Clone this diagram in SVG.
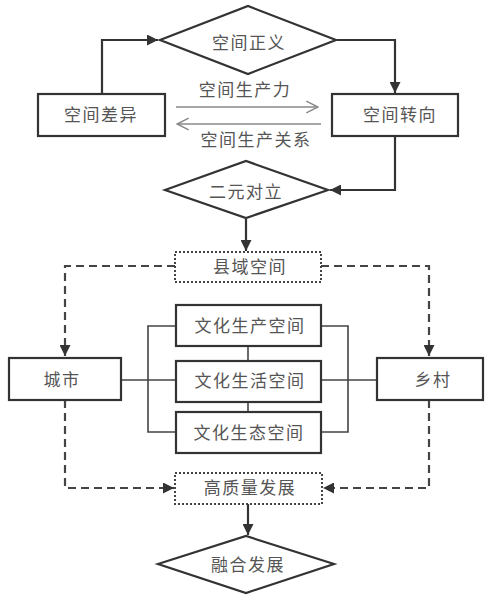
<svg xmlns="http://www.w3.org/2000/svg" width="486" height="597" viewBox="0 0 486 597">
<defs>
<marker id="ah" viewBox="0 0 10 10" refX="10" refY="5" markerWidth="5" markerHeight="5" orient="auto" markerUnits="userSpaceOnUse">
<path d="M0,0 L10,5 L0,10 z" fill="#333"/>
</marker>
<marker id="ahb" viewBox="0 0 10 10" refX="10" refY="5" markerWidth="11" markerHeight="11" orient="auto" markerUnits="userSpaceOnUse">
<path d="M0,0 L10,5 L0,10 z" fill="#333"/>
</marker>
<marker id="open" viewBox="0 0 12 12" refX="11" refY="6" markerWidth="14" markerHeight="14" orient="auto" markerUnits="userSpaceOnUse">
<path d="M1,1 L11,6 L1,11" fill="none" stroke="#888" stroke-width="1.2"/>
</marker>
</defs>
<style>
.box{fill:#fff;stroke:#333;stroke-width:2.2}
.dot{fill:#fff;stroke:#444;stroke-width:2;stroke-dasharray:2 2}
.t{font-family:"Noto Sans CJK SC","Noto Sans CJK JP",sans-serif;font-size:17px;fill:#555;text-anchor:middle;letter-spacing:1.5px}
.ln{fill:none;stroke:#333;stroke-width:2.2}
.thin{fill:none;stroke:#444;stroke-width:1.6}
.dash{fill:none;stroke:#444;stroke-width:2.2;stroke-dasharray:8 5}
.gr{fill:none;stroke:#888;stroke-width:1.5}
</style>
<rect width="486" height="597" fill="#fff"/>
<g id="connectors">
<polyline class="ln" points="102,94 102,40 158,40" marker-end="url(#ahb)"/>
<polyline class="ln" points="336,40 395,40 395,93" marker-end="url(#ahb)"/>
<polyline class="ln" points="395,136 395,190 330,190" marker-end="url(#ahb)"/>
<line class="ln" x1="246" y1="219" x2="246" y2="251" marker-end="url(#ahb)"/>
<line class="gr" x1="176" y1="107" x2="318" y2="107" marker-end="url(#open)"/>
<line class="gr" x1="321" y1="124" x2="177" y2="124" marker-end="url(#open)"/>
<polyline class="dash" points="175,266 65,266 65,356" marker-end="url(#ahb)"/>
<polyline class="dash" points="321,266 429,266 429,356" marker-end="url(#ahb)"/>
<polyline class="dash" points="65,400 65,488 174,488" marker-end="url(#ahb)"/>
<polyline class="dash" points="429,400 429,488 323,488" marker-end="url(#ahb)"/>
<line class="ln" x1="248" y1="504" x2="248" y2="535" marker-end="url(#ahb)"/>
<polyline class="thin" points="176,326 148,326 148,432 176,432"/>
<polyline class="thin" points="321,326 348,326 348,432 321,432"/>
<line class="thin" x1="121" y1="380" x2="176" y2="380"/>
<line class="thin" x1="321" y1="380" x2="377" y2="380"/>
<line class="thin" x1="248" y1="346" x2="248" y2="361"/>
<line class="thin" x1="248" y1="402" x2="248" y2="412"/>
<text class="t" x="245" y="96">空间生产力</text>
<text class="t" x="256" y="146">空间生产关系</text>
</g>
<g id="n1"><polygon class="box" points="160,40 248,6 336,40 248,74"/><text class="t" x="249" y="49">空间正义</text></g>
<g id="n2"><rect class="box" x="38" y="94" width="127" height="42"/><text class="t" x="101" y="121">空间差异</text></g>
<g id="n3"><rect class="box" x="332" y="94" width="126" height="42"/><text class="t" x="400" y="121">空间转向</text></g>
<g id="n4"><polygon class="box" points="165,190 246,161 328,190 246,218"/><text class="t" x="246" y="198">二元对立</text></g>
<g id="n5"><rect class="dot" x="175" y="252" width="146" height="30"/><text class="t" x="250" y="273">县域空间</text></g>
<g id="n6"><rect class="box" x="9" y="358" width="112" height="42"/><text class="t" x="62" y="386">城市</text></g>
<g id="n7"><rect class="box" x="377" y="358" width="106" height="42"/><text class="t" x="433" y="386">乡村</text></g>
<g id="n8"><rect class="box" x="176" y="305" width="145" height="41"/><text class="t" x="250" y="332">文化生产空间</text></g>
<g id="n9"><rect class="box" x="176" y="361" width="145" height="41"/><text class="t" x="250" y="387">文化生活空间</text></g>
<g id="n10"><rect class="box" x="176" y="412" width="145" height="41"/><text class="t" x="249" y="439">文化生态空间</text></g>
<g id="n11"><rect class="dot" x="175" y="473" width="147" height="31"/><text class="t" x="250" y="494">高质量发展</text></g>
<g id="n12"><polygon class="box" points="158,564 246,536 334,564 246,593"/><text class="t" x="248" y="571">融合发展</text></g>
</svg>
